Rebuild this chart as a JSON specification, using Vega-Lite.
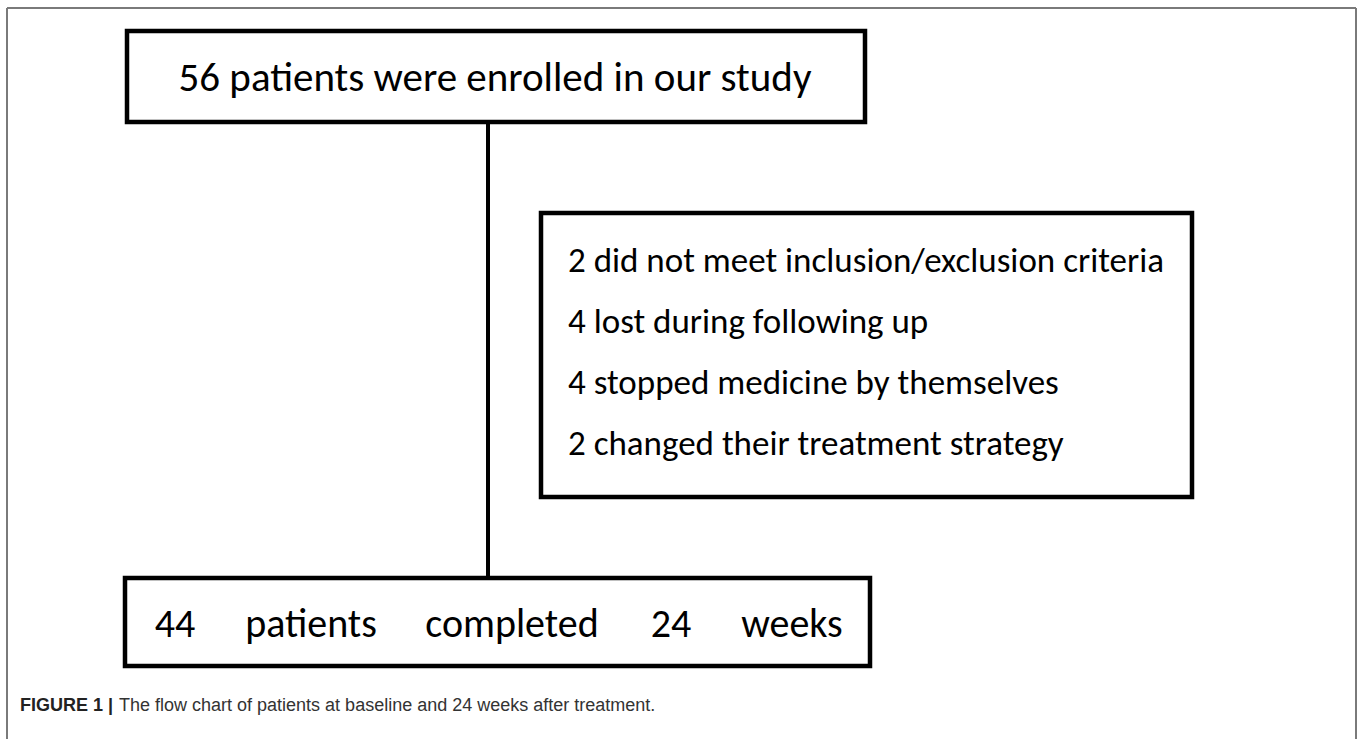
{
  "$schema": "https://vega.github.io/schema/vega-lite/v6.json",
  "width": 1358,
  "height": 740,
  "autosize": {"type": "fit", "contains": "padding"},
  "padding": 0,
  "background": "white",
  "view": {"stroke": null},
  "datasets": {
    "frame": [
      {"side": "left", "x1": 7, "x2": 7, "y1": 8, "y2": 739},
      {"side": "top", "x1": 7, "x2": 1356, "y1": 8, "y2": 8},
      {"side": "right", "x1": 1356, "x2": 1356, "y1": 8, "y2": 739}
    ],
    "boxes": [
      {"box": "enrolled", "x1": 127, "x2": 865, "y1": 31, "y2": 122},
      {"box": "excluded", "x1": 541, "x2": 1192, "y1": 213, "y2": 497},
      {"box": "completed", "x1": 125, "x2": 870, "y1": 578, "y2": 666}
    ],
    "links": [{"x": 488, "y1": 122, "y2": 578}],
    "boxText": [
      {"text": "56 patients were enrolled in our study", "x": 495, "y": 91, "size": 41, "align": "center"},
      {"text": "44", "x": 175, "y": 637, "size": 40, "align": "center"},
      {"text": "patients", "x": 311, "y": 637, "size": 40, "align": "center"},
      {"text": "completed", "x": 512, "y": 637, "size": 40, "align": "center"},
      {"text": "24", "x": 671, "y": 637, "size": 40, "align": "center"},
      {"text": "weeks", "x": 792, "y": 637, "size": 40, "align": "center"}
    ],
    "reasons": [
      {"text": "2 did not meet inclusion/exclusion criteria", "x": 568, "y": 272},
      {"text": "4 lost during following up", "x": 568, "y": 333},
      {"text": "4 stopped medicine by themselves", "x": 568, "y": 394},
      {"text": "2 changed their treatment strategy", "x": 568, "y": 455}
    ],
    "caption": [
      {"label": "FIGURE 1 |", "rest": "The flow chart of patients at baseline and 24 weeks after treatment.", "x": 20, "x2": 119, "y": 711}
    ]
  },
  "layer": [
    {
      "data": {"name": "frame"},
      "mark": {"type": "rule", "stroke": "#7a7a7a", "strokeWidth": 2},
      "encoding": {
        "x": {"field": "x1", "type": "quantitative", "scale": {"domain": [0, 1358], "nice": false, "zero": false}, "axis": null},
        "x2": {"field": "x2"},
        "y": {"field": "y1", "type": "quantitative", "scale": {"domain": [0, 740], "nice": false, "zero": false, "reverse": true}, "axis": null},
        "y2": {"field": "y2"}
      }
    },
    {
      "data": {"name": "links"},
      "mark": {"type": "rule", "stroke": "black", "strokeWidth": 4},
      "encoding": {
        "x": {"field": "x", "type": "quantitative"},
        "y": {"field": "y1", "type": "quantitative"},
        "y2": {"field": "y2"}
      }
    },
    {
      "data": {"name": "boxes"},
      "mark": {"type": "rect", "fill": "white", "stroke": "black", "strokeWidth": 4.5},
      "encoding": {
        "x": {"field": "x1", "type": "quantitative"},
        "x2": {"field": "x2"},
        "y": {"field": "y1", "type": "quantitative"},
        "y2": {"field": "y2"}
      }
    },
    {
      "data": {"name": "boxText"},
      "mark": {"type": "text", "font": "Carlito, Calibri, Open Sans", "baseline": "alphabetic", "color": "black"},
      "encoding": {
        "x": {"field": "x", "type": "quantitative"},
        "y": {"field": "y", "type": "quantitative"},
        "text": {"field": "text"},
        "size": {"field": "size", "type": "quantitative", "scale": null},
        "align": {"field": "align", "type": "nominal", "scale": null, "legend": null}
      }
    },
    {
      "data": {"name": "reasons"},
      "mark": {"type": "text", "font": "Carlito, Calibri, Open Sans", "fontSize": 35, "align": "left", "baseline": "alphabetic", "color": "black"},
      "encoding": {
        "x": {"field": "x", "type": "quantitative"},
        "y": {"field": "y", "type": "quantitative"},
        "text": {"field": "text"}
      }
    },
    {
      "data": {"name": "caption"},
      "mark": {"type": "text", "font": "Liberation Sans Narrow, Arial Narrow, Liberation Sans", "fontSize": 18, "fontWeight": "bold", "align": "left", "baseline": "alphabetic", "color": "#222"},
      "encoding": {
        "x": {"field": "x", "type": "quantitative"},
        "y": {"field": "y", "type": "quantitative"},
        "text": {"field": "label"}
      }
    },
    {
      "data": {"name": "caption"},
      "mark": {"type": "text", "font": "Liberation Sans Narrow, Arial Narrow, Liberation Sans", "fontSize": 18, "align": "left", "baseline": "alphabetic", "color": "#333"},
      "encoding": {
        "x": {"field": "x2", "type": "quantitative"},
        "y": {"field": "y", "type": "quantitative"},
        "text": {"field": "rest"}
      }
    }
  ]
}
